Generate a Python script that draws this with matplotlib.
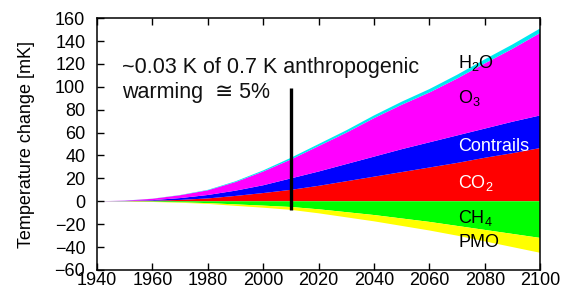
import matplotlib
matplotlib.use("Agg")
import matplotlib.pyplot as plt
import numpy as np

years = [1940, 1950, 1960, 1970, 1980, 1990, 2000, 2010, 2020, 2030, 2040,
         2050, 2060, 2070, 2080, 2090, 2100]
co2 = [0, 0.1, 0.5, 1.2, 2.5, 4.7, 7.2, 10, 13.5, 17.5, 21.5, 25.5, 29.5,
       33.5, 38, 42, 46.5]
contrails = [0, 0.2, 0.5, 1.6, 3.0, 4.6, 6.8, 10, 12.5, 15, 17.5, 20, 22,
             24, 25.5, 27.5, 28.5]
o3 = [0, 0.25, 1.2, 2.5, 4.1, 7.5, 12, 16.5, 22.2, 27.4, 33.6, 38.8, 43.5,
      49.7, 56.9, 63.7, 72]
h2o = [0, 0.05, 0.1, 0.2, 0.4, 0.7, 1.0, 1.5, 1.8, 2.1, 2.4, 2.7, 3.0, 3.3,
       3.6, 3.8, 4.0]
ch4 = [0, -0.1, -0.4, -0.9, -1.6, -2.7, -3.8, -5, -7, -9.5, -12, -15, -18,
       -21.5, -25, -28.5, -32]
pmo = [0, -0.05, -0.2, -0.4, -0.7, -1.3, -1.8, -2.5, -3.5, -4.5, -5.5, -6.5,
       -7.5, -8.5, -10, -11.5, -13]

xticks = list(range(1940, 2101, 20))
yticks = list(range(-60, 161, 20))

plt.rcParams['font.family'] = ['Liberation Sans', 'DejaVu Sans']
plt.rcParams['mathtext.fontset'] = 'custom'
plt.rcParams['mathtext.rm'] = 'Liberation Sans'

fig = plt.figure(figsize=(5.71, 2.97), dpi=100)
ax = fig.add_axes([0.170, 0.091, 0.776, 0.848])

ax.stackplot(years, co2, contrails, o3, h2o,
             colors=['#ff0000', '#0000ff', '#ff00ff', '#00e8f0'], linewidth=0)
ax.stackplot(years, ch4, pmo, colors=['#00ff00', '#ffff00'], linewidth=0)

ax.plot([2010, 2010], [99, -8], color='black', lw=2.4, solid_capstyle='butt')

ax.set_xlim(1940, 2100)
ax.set_ylim(-60, 160)
ax.set_xticks(xticks)
ax.set_yticks(yticks)
ax.tick_params(direction='in', length=5, width=1.0, labelsize=13,
               top=True, right=False, colors='black')
ax.tick_params(axis='x', pad=1.5)
ax.tick_params(axis='y', pad=8.5)
for s in ax.spines.values():
    s.set_linewidth(1.1)
ax.set_ylabel('Temperature change [mK]', fontsize=13, labelpad=14)

ax.text(1949, 111.8, '~0.03 K of 0.7 K anthropogenic', fontsize=15.5,
        va='baseline', ha='left', color='#111111')
ax.text(1949, 90, 'warming  \u2245 5%', fontsize=15.5, va='baseline',
        ha='left', color='#111111')

lx = 2070.4
ax.text(lx, 116, r'H$_\mathrm{2}$O', fontsize=13, va='baseline', color='black')
ax.text(lx, 86, r'O$_\mathrm{3}$', fontsize=13, va='baseline', color='black')
ax.text(lx, 44, 'Contrails', fontsize=13, va='baseline', color='white')
ax.text(lx, 11.6, r'CO$_\mathrm{2}$', fontsize=13, va='baseline', color='white')
ax.text(lx, -19, r'CH$_\mathrm{4}$', fontsize=13, va='baseline', color='black')
ax.text(lx, -40, 'PMO', fontsize=13, va='baseline', color='black')

fig.savefig('out.png', dpi=100)
